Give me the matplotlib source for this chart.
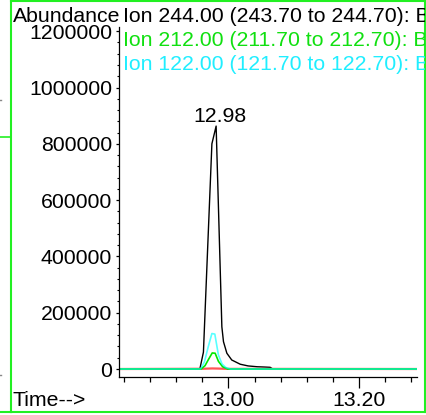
import matplotlib
matplotlib.use("Agg")
import matplotlib.pyplot as plt
from matplotlib.lines import Line2D
from matplotlib.ticker import MultipleLocator, FuncFormatter
import numpy as np

plt.rcParams['font.family'] = ['Liberation Sans', 'DejaVu Sans']

# Extracted ion chromatograms (time in min, abundance)
t_244 = [12.834, 12.956, 12.9615, 12.968, 12.9745, 12.981, 12.9898, 12.9923,
         12.9975, 13.005, 13.018, 13.030, 13.044, 13.055, 13.064, 13.068, 13.289]
y_244 = [0, 0, 60000, 430000, 800000, 863000, 150000, 97000,
         56000, 32000, 17000, 11000, 8000, 7000, 6000, 0, 0]

t_212 = [12.834, 12.958, 12.964, 12.969, 12.975, 12.9795, 12.9846, 12.991, 12.999, 13.289]
y_212 = [0, 0, 12000, 33000, 57000, 56000, 27000, 8000, 0, 0]

t_122 = [12.834, 12.957, 12.963, 12.969, 12.9745, 12.979, 12.9845, 12.990, 12.996, 13.003, 13.289]
y_122 = [0, 0, 25000, 80000, 126000, 124000, 50000, 18000, 5000, 0, 0]

t_red = [12.834, 12.960, 12.975, 12.985, 12.998, 13.289]
y_red = [0, 800, 2000, 1500, 500, 0]

ion_labels = ["Ion 244.00 (243.70 to 244.70): B",
              "Ion 212.00 (211.70 to 212.70): B",
              "Ion 122.00 (121.70 to 122.70): B"]
ion_colors = ["black", "#10e010", "#20eeff"]

W, H = 427, 415
fig = plt.figure(figsize=(W / 100, H / 100), dpi=100)

def px(x, y):
    return x / W, 1 - y / H

lime = "#22f022"

# outer window frame
frame = fig.add_axes([11.3 / W, 3.3 / H, (425 - 11.3) / W, (411.7 - 1.5) / H])
frame.set_xticks([])
frame.set_yticks([])
frame.set_facecolor("none")
for s in frame.spines.values():
    s.set_color(lime)
    s.set_linewidth(1.5)

# leftover bits of the neighbouring window
fig.add_artist(Line2D([0, 10 / W], [1 - 137 / H] * 2, color=lime, lw=1.2, transform=fig.transFigure))
fig.add_artist(Line2D([0, 11 / W], [1 - 411.7 / H] * 2, color=lime, lw=1.5, transform=fig.transFigure))
for yy in (100, 375):
    fig.add_artist(Line2D([0, 1.5 / W], [1 - yy / H] * 2, color="#888888", lw=1, transform=fig.transFigure))

fs = 15.3
def ftext(x, y, s, color="black"):
    t = frame.text(*px(x, y), s, transform=fig.transFigure, fontsize=fs, color=color,
                   ha="left", va="baseline", clip_on=True)
    t.set_clip_path(frame.patch)
    return t

ftext(12.5, 21.7, "Abundance")
for i, (lab, col) in enumerate(zip(ion_labels, ion_colors)):
    ftext(123.5, 22.5 + 24 * i, lab, col)
ftext(12.5, 406, "Time-->")

# main chromatogram axes
ax = fig.add_axes([119 / W, (H - 377) / H, (416.5 - 119) / W, (377 - 27) / H])
ax.set_facecolor("none")
ax.plot(t_244, y_244, color="black", lw=1.0)
ax.plot(t_red, y_red, color="#ff5555", lw=1.6)
ax.plot(t_212, y_212, color="#00e800", lw=1.2)
ax.plot(t_122, y_122, color="#00ffff", lw=1.2, alpha=0.65)

ipk = int(np.argmax(y_244))
ax.annotate(f"{t_244[ipk]:.2f}", (t_244[ipk], y_244[ipk]), xytext=(2.5, 3),
            textcoords="offset points", ha="center", va="baseline", fontsize=fs)

ax.set_xlim(12.8318, 13.2888)
ax.set_ylim(-28400, 1215000)
ax.spines["top"].set_visible(False)
ax.spines["right"].set_visible(False)
ax.spines["left"].set_linewidth(0.9)
ax.spines["bottom"].set_linewidth(0.9)

ax.xaxis.set_major_locator(MultipleLocator(0.2))
ax.xaxis.set_minor_locator(MultipleLocator(0.04))
ax.xaxis.set_major_formatter(FuncFormatter(lambda v, p: f"{v:.2f}"))
ax.yaxis.set_major_locator(MultipleLocator(200000))
ax.yaxis.set_minor_locator(MultipleLocator(40000))
ax.yaxis.set_major_formatter(FuncFormatter(lambda v, p: f"{int(round(v))}"))

ax.tick_params(axis="x", which="major", length=8, width=0.9, pad=2, labelsize=fs)
ax.tick_params(axis="x", which="minor", length=3.6, width=0.9)
ax.tick_params(axis="y", which="major", length=2.5, width=0.9, pad=2.5, labelsize=fs)
ax.tick_params(axis="y", which="minor", length=1.5, width=0.8)

fig.savefig("out.png", dpi=100)
